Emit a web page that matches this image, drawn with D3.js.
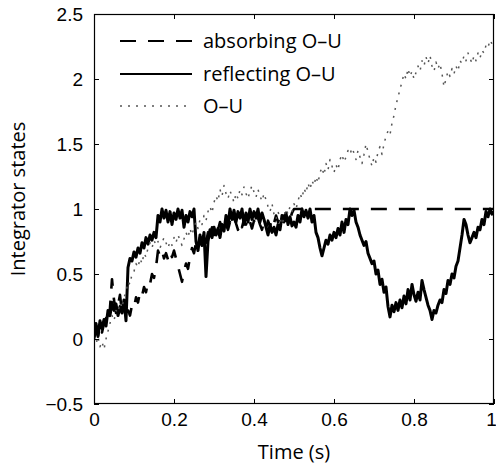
<!DOCTYPE html>
<html>
<head>
<meta charset="utf-8">
<script src="https://cdn.jsdelivr.net/npm/d3@7"></script>
<style>
  body { margin: 0; background: #fff; }
  svg { display: block; font-family: "Open Sans", "Noto Sans", sans-serif; }
</style>
</head>
<body>
<svg id="chart" width="496" height="467"></svg>
<script>
// pas de temps des trajectoires (s)
const timeStep = 0.005;

// O-U réfléchi (trait plein), t = 0 .. 1
const reflectingValues = [
  0.05, 0.12, 0.02, 0.14, 0.08, 0.15, 0.10, 0.22, 0.18, 0.28,
  0.22, 0.27, 0.18, 0.25, 0.20, 0.30, 0.14, 0.55, 0.62, 0.60,
  0.67, 0.63, 0.70, 0.66, 0.74, 0.70, 0.78, 0.73, 0.80, 0.76,
  0.82, 0.78, 0.95, 0.90, 1.00, 0.93, 0.99, 0.90, 0.98, 0.88,
  0.97, 0.92, 1.00, 0.93, 0.99, 0.86, 0.95, 0.90, 0.98, 0.94,
  1.00, 0.75, 0.68, 0.80, 0.72, 0.82, 0.48, 0.75, 0.84, 0.78,
  0.86, 0.80, 0.85, 0.78, 0.88, 0.83, 0.95, 0.88, 1.00, 0.92,
  0.99, 0.90, 0.98, 0.93, 1.00, 0.88, 0.97, 0.90, 1.00, 0.92,
  0.98, 0.93, 1.00, 0.90, 0.97, 0.92, 0.86, 0.80, 0.88, 0.82,
  0.86, 0.80, 0.88, 0.84, 0.95, 0.90, 0.97, 0.88, 0.94, 0.87,
  0.90, 0.86, 0.95, 0.90, 1.00, 0.94, 0.99, 0.93, 1.00, 0.90,
  0.95, 0.82, 0.78, 0.70, 0.64, 0.70, 0.76, 0.73, 0.80, 0.76,
  0.82, 0.78, 0.85, 0.80, 0.90, 0.82, 0.92, 0.88, 1.00, 0.95,
  0.99, 0.90, 0.86, 0.80, 0.76, 0.72, 0.75, 0.66, 0.62, 0.58,
  0.60, 0.50, 0.53, 0.42, 0.46, 0.36, 0.40, 0.25, 0.17, 0.26,
  0.21, 0.28, 0.22, 0.30, 0.24, 0.33, 0.27, 0.38, 0.30, 0.42,
  0.34, 0.29, 0.36, 0.30, 0.45, 0.38, 0.32, 0.26, 0.22, 0.15,
  0.22, 0.20, 0.26, 0.30, 0.28, 0.38, 0.35, 0.45, 0.42, 0.50,
  0.47, 0.56, 0.60, 0.70, 0.80, 0.92, 0.88, 0.80, 0.74, 0.78,
  0.82, 0.78, 0.86, 0.84, 0.92, 0.88, 0.98, 0.94, 1.00, 0.96,
  0.98
];

// O-U absorbé (tirets), t = 0 .. 0.5, ensuite collé à la borne
const absorbingValues = [
  0.00, 0.06, 0.03, 0.10, 0.05, 0.12, 0.16, 0.12, 0.24, 0.46,
  0.30, 0.20, 0.26, 0.34, 0.20, 0.28, 0.16, 0.22, 0.18, 0.26,
  0.24, 0.32, 0.28, 0.36, 0.33, 0.40, 0.36, 0.44, 0.42, 0.50,
  0.47, 0.55, 0.68, 0.64, 0.68, 0.62, 0.66, 0.61, 0.67, 0.63,
  0.68, 0.62, 0.56, 0.50, 0.44, 0.52, 0.58, 0.54, 0.63, 0.70,
  0.66, 0.74, 0.70, 0.78, 0.72, 0.80, 0.74, 0.82, 0.78, 0.86,
  0.80, 0.88, 0.84, 0.90, 0.85, 0.92, 0.88, 0.84, 0.90, 0.86,
  0.93, 0.89, 0.84, 0.90, 0.86, 0.92, 0.88, 0.94, 0.90, 0.85,
  0.91, 0.87, 0.93, 0.88, 0.84, 0.90, 0.85, 0.91, 0.87, 0.93,
  0.89, 0.95, 0.90, 0.94, 0.89, 0.95, 0.91, 0.96, 0.92, 0.97,
  1.00
];
// partie absorbée : [temps, valeur]
const absorbedTail = [[1.0, 1.0]];

// O-U libre (pointillés), t = 0 .. 1
const ouValues = [
  0.00, -0.04, 0.02, -0.06, -0.02, -0.08, 0.00, 0.06, 0.12, 0.18,
  0.14, 0.22, 0.20, 0.28, 0.24, 0.32, 0.36, 0.44, 0.42, 0.50,
  0.52, 0.58, 0.55, 0.62, 0.58, 0.66, 0.63, 0.70, 0.74, 0.70,
  0.76, 0.72, 0.75, 0.70, 0.74, 0.78, 0.74, 0.70, 0.75, 0.72,
  0.78, 0.74, 0.80, 0.76, 0.72, 0.77, 0.82, 0.78, 0.85, 0.80,
  0.86, 0.90, 0.85, 0.92, 0.88, 0.95, 0.91, 0.98, 1.02, 0.97,
  1.05, 1.10, 1.06, 1.15, 1.10, 1.18, 1.12, 1.08, 1.14, 1.10,
  1.05, 1.12, 1.08, 1.15, 1.11, 1.17, 1.12, 1.08, 1.14, 1.18,
  1.13, 1.09, 1.15, 1.10, 1.06, 1.12, 1.07, 1.02, 0.98, 1.04,
  0.96, 0.92, 0.98, 0.93, 0.88, 0.94, 1.00, 0.96, 1.02, 0.98,
  1.04, 1.00, 1.06, 1.12, 1.08, 1.16, 1.12, 1.20, 1.15, 1.22,
  1.18, 1.25, 1.20, 1.28, 1.32, 1.26, 1.35, 1.30, 1.38, 1.33,
  1.28, 1.34, 1.30, 1.38, 1.42, 1.36, 1.40, 1.45, 1.42, 1.47,
  1.43, 1.38, 1.45, 1.40, 1.35, 1.42, 1.50, 1.44, 1.38, 1.33,
  1.40, 1.36, 1.44, 1.48, 1.42, 1.50, 1.56, 1.60, 1.57, 1.66,
  1.72, 1.80, 1.86, 1.92, 1.98, 2.04, 2.00, 2.08, 2.02, 2.06,
  2.00, 2.05, 2.10, 2.06, 2.14, 2.10, 2.17, 2.12, 2.18, 2.10,
  2.06, 2.13, 2.08, 2.12, 2.04, 1.94, 2.00, 2.06, 2.02, 2.08,
  2.04, 2.10, 2.06, 2.14, 2.12, 2.18, 2.14, 2.20, 2.16, 2.12,
  2.18, 2.14, 2.20, 2.16, 2.22, 2.20, 2.26, 2.24, 2.30, 2.27,
  2.32
];

const xTicks = [0, 0.2, 0.4, 0.6, 0.8, 1];
const yTicks = [-0.5, 0, 0.5, 1, 1.5, 2, 2.5];
const legendLabels = ["absorbing O\u2013U", "reflecting O\u2013U", "O\u2013U"];

// marges du graphique
const margin = { top: 14, right: 2, bottom: 63, left: 94 };
const width = 496, height = 467;
const plotW = width - margin.left - margin.right;
const plotH = height - margin.top - margin.bottom;

const svg = d3.select("#chart");

const x = d3.scaleLinear().domain([0, 1]).range([margin.left, margin.left + plotW]);
const y = d3.scaleLinear().domain([-0.5, 2.5]).range([margin.top + plotH, margin.top]);

const toPoints = vals => vals.map((v, i) => [i * timeStep, v]);
const reflecting = toPoints(reflectingValues);
const absorbing = toPoints(absorbingValues).concat(absorbedTail);
const ou = toPoints(ouValues);

const line = d3.line().x(d => x(d[0])).y(d => y(d[1]));

svg.append("clipPath").attr("id", "clip")
  .append("rect")
  .attr("x", margin.left).attr("y", margin.top)
  .attr("width", plotW).attr("height", plotH);

const series = [
  { data: absorbing, stroke: "#000", width: 2.6, dash: "16,12", legendWidth: 2.2 },
  { data: reflecting, stroke: "#000", width: 3, dash: null, legendWidth: 2.2 },
  { data: ou, stroke: "#555", width: 1.5, dash: "2,6", legendWidth: 1.3 }
];

const lines = svg.append("g").attr("clip-path", "url(#clip)").attr("fill", "none");
series.forEach(s => {
  lines.append("path")
    .datum(s.data)
    .attr("d", line)
    .attr("stroke", s.stroke)
    .attr("stroke-width", s.width)
    .attr("stroke-linejoin", "round")
    .attr("stroke-dasharray", s.dash);
});

// axes avec graduations vers l'intérieur, sur les quatre côtés
const tickLen = 5;
svg.append("g")
  .attr("transform", `translate(0,${margin.top + plotH})`)
  .call(d3.axisBottom(x).tickValues(xTicks).tickSizeInner(-tickLen).tickSizeOuter(0)
    .tickPadding(9).tickFormat(d3.format("")))
  .call(g => g.selectAll("text").attr("font-size", 19).attr("fill", "#000")
    .attr("dx", d => d === 1 ? -3 : 0));

svg.append("g")
  .attr("transform", `translate(${margin.left},0)`)
  .call(d3.axisLeft(y).tickValues(yTicks).tickSizeInner(-tickLen).tickSizeOuter(0)
    .tickPadding(11).tickFormat(d => d < 0 ? "\u2212" + Math.abs(d) : d))
  .call(g => g.selectAll("text").attr("font-size", 19).attr("fill", "#000"));

svg.append("g")
  .attr("transform", `translate(0,${margin.top})`)
  .call(d3.axisTop(x).tickValues(xTicks).tickSizeInner(-tickLen).tickSizeOuter(0).tickFormat(""));

svg.append("g")
  .attr("transform", `translate(${margin.left + plotW},0)`)
  .call(d3.axisRight(y).tickValues(yTicks).tickSizeInner(-tickLen).tickSizeOuter(0).tickFormat(""));

svg.selectAll(".domain").remove();
svg.selectAll(".tick line").attr("stroke", "#000");

svg.append("rect")
  .attr("x", margin.left + 0.5).attr("y", margin.top + 0.5)
  .attr("width", plotW - 1).attr("height", plotH - 1)
  .attr("fill", "none").attr("stroke", "#000").attr("stroke-width", 1.2);

// titres des axes
svg.append("text")
  .attr("x", margin.left + plotW / 2).attr("y", 459)
  .attr("text-anchor", "middle").attr("font-size", 20)
  .text("Time (s)");

svg.append("text")
  .attr("transform", "translate(25,199) rotate(-90)")
  .attr("text-anchor", "middle").attr("font-size", 20)
  .text("Integrator states");

// légende
const legendY = [41, 74, 106];
const legend = svg.append("g");
series.forEach((s, i) => {
  legend.append("line")
    .attr("x1", 120).attr("x2", 192)
    .attr("y1", legendY[i]).attr("y2", legendY[i])
    .attr("stroke", s.stroke)
    .attr("stroke-width", s.legendWidth)
    .attr("stroke-dasharray", s.dash);
  legend.append("text")
    .attr("x", 203).attr("y", legendY[i] + 7)
    .attr("font-size", 20)
    .text(legendLabels[i]);
});
</script>
</body>
</html>
